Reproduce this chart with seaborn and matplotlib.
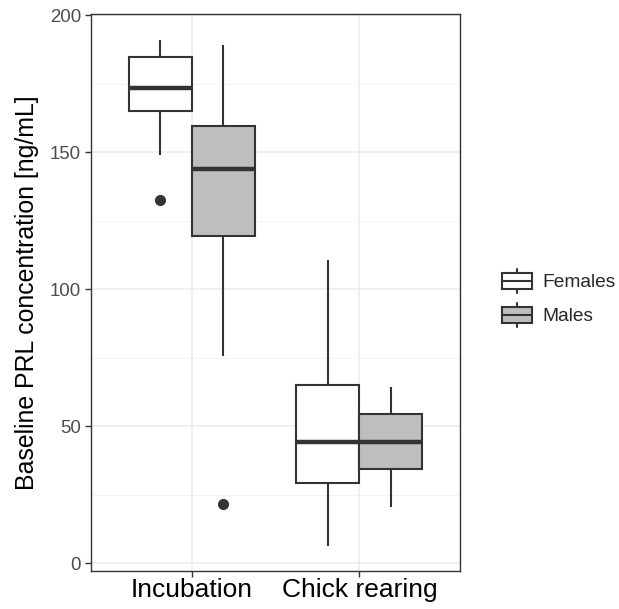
import matplotlib
matplotlib.use("Agg")
import matplotlib.pyplot as plt
from matplotlib.patches import Patch, Rectangle
from matplotlib.lines import Line2D
from matplotlib.legend_handler import HandlerBase
from matplotlib.ticker import MultipleLocator
import seaborn as sns
import pandas as pd

# ---- data (five-number summaries) ----
conditions = ["Incubation", "Chick rearing"]
sexes = ["Females", "Males"]
group_condition = ["Incubation", "Incubation", "Chick rearing", "Chick rearing"]
group_sex = ["Females", "Males", "Females", "Males"]
lower_whisker = [148.9, 75.6, 6.3, 20.4]
q1 = [165.1, 119.6, 29.2, 34.3]
median = [173.6, 144.1, 44.4, 44.4]
q3 = [184.9, 159.5, 65.0, 54.5]
upper_whisker = [191.1, 189.3, 110.6, 64.2]
outliers = [[132.5], [21.7], [], []]
yticks = [0, 50, 100, 150, 200]

# Rebuild samples (n=9) whose quartiles/whiskers reproduce the summaries
rows = []
for i in range(4):
    pad = outliers[i] if outliers[i] else [lower_whisker[i]]
    core = [lower_whisker[i], q1[i], median[i], median[i], median[i],
            q3[i], q3[i], upper_whisker[i]]
    for v in sorted(pad + core):
        rows.append({"condition": group_condition[i], "sex": group_sex[i], "prl": v})
df = pd.DataFrame(rows)

sns.set_style("white")
plt.rcParams["font.family"] = ["Liberation Sans", "DejaVu Sans"]

fig = plt.figure(figsize=(6.19, 6.09), dpi=100)
ax = fig.add_axes([91 / 619, 1 - 571 / 609, (460 - 91) / 619, (571 - 14) / 609])

line_col = "#333333"
palette = {"Females": "white", "Males": "#bebebe"}
sns.boxplot(data=df, x="condition", y="prl", hue="sex", order=conditions,
            hue_order=sexes, palette=palette, saturation=1, width=0.75, gap=0,
            linecolor=line_col, linewidth=1.5, showcaps=False,
            medianprops={"linewidth": 3.2, "color": line_col},
            flierprops={"marker": "o", "markersize": 7, "markerfacecolor": line_col,
                        "markeredgecolor": line_col},
            legend=False, ax=ax)

ax.set_xlim(-0.6, 1.6)
ax.set_ylim(-2.8, 200.5)
ax.set_yticks(yticks)
ax.yaxis.set_minor_locator(MultipleLocator(25))
ax.set_axisbelow(True)
ax.grid(which="major", color="#ebebeb", linewidth=1.1)
ax.grid(which="minor", axis="y", color="#f2f2f2", linewidth=0.6)
for s in ax.spines.values():
    s.set_visible(True)
    s.set_color(line_col)
    s.set_linewidth(1.0)
ax.tick_params(which="major", length=4.2, width=1.0, color=line_col,
               bottom=True, left=True)
ax.tick_params(which="minor", length=0)
ax.tick_params(axis="y", labelsize=13.4, labelcolor="#4d4d4d", pad=3)
ax.tick_params(axis="x", labelsize=19, labelcolor="black", pad=1)
ax.set_xlabel("")
ax.set_ylabel("Baseline PRL concentration [ng/mL]", fontsize=17.9, color="black",
              labelpad=8)


class BoxKeyHandler(HandlerBase):
    def create_artists(self, legend, orig_handle, xdescent, ydescent, width,
                       height, fontsize, trans):
        x0, y0 = -xdescent, -ydescent
        bb, bt = y0 + 0.17 * height, y0 + 0.83 * height
        xm = x0 + width / 2
        rect = Rectangle((x0, bb), width, bt - bb, facecolor=orig_handle.get_facecolor(),
                         edgecolor=line_col, linewidth=1.5, transform=trans)
        med = Line2D([x0, x0 + width], [(bb + bt) / 2] * 2, color=line_col,
                     linewidth=1.5, transform=trans)
        w1 = Line2D([xm, xm], [bt, y0 + height], color=line_col, linewidth=1.5,
                    transform=trans)
        w2 = Line2D([xm, xm], [y0, bb], color=line_col, linewidth=1.5,
                    transform=trans)
        return [w1, w2, rect, med]


handles = [Patch(facecolor=palette[s]) for s in sexes]
fig.legend(handles, sexes, handler_map={Patch: BoxKeyHandler(xpad=0, ypad=0)},
           loc="center left", bbox_to_anchor=(489 / 619, 1 - 298 / 609),
           frameon=False, fontsize=13.8, handlelength=1.55, handleheight=1.6,
           labelspacing=0.48, handletextpad=0.55, borderpad=0.2)

fig.savefig("out.png", dpi=100)
